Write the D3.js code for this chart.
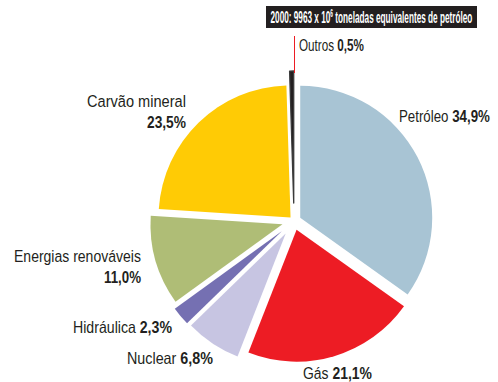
<!DOCTYPE html>
<html>
<head>
<meta charset="utf-8">
<script src="https://cdn.jsdelivr.net/npm/d3@7/dist/d3.min.js"></script>
<style>
  html, body { margin: 0; padding: 0; background: #ffffff; }
  svg { display: block; }
  text { font-family: "Liberation Sans Narrow", "Arial Narrow", "Liberation Sans", Arial, sans-serif; fill: #231f20; }
</style>
</head>
<body>
<svg id="chart" width="498" height="382"></svg>
<script>
// World primary energy supply in 2000, share by source (%), clockwise from 12 o'clock
const sources = ["Petróleo", "Gás", "Nuclear", "Hidráulica", "Energias renováveis", "Carvão mineral", "Outros"];
const shares  = [34.9, 21.1, 6.8, 2.3, 11.0, 23.5, 0.5];
const shareLabels = ["34,9%", "21,1%", "6,8%", "2,3%", "11,0%", "23,5%", "0,5%"];
const titleText = "2000: 9963 x 10";
const titleSup = "6";
const titleRest = " toneladas equivalentes de petróleo";

const colors = ["#a8c4d4", "#ed1c24", "#c7c5e2", "#7570b2", "#afbd76", "#ffcb05", "#231f20"];
// how far each wedge is pulled out from the centre
const explode = [7, 9, 15, 16, 12, 5, 18];

const svg = d3.select("#chart");
const cx = 294, cy = 221, R = 132;

const pie = d3.pie().sort(null).value(d => d.value).startAngle(0).endAngle(2 * Math.PI);
const data = sources.map((s, i) => ({ name: s, value: shares[i], label: shareLabels[i], color: colors[i], ex: explode[i] }));
const arcs = pie(data);
const arc = d3.arc().innerRadius(0).outerRadius(R);

const g = svg.append("g").attr("transform", `translate(${cx},${cy})`);
g.selectAll("path.slice")
  .data(arcs)
  .join("path")
  .attr("class", "slice")
  .attr("transform", d => {
    const a = (d.startAngle + d.endAngle) / 2;
    return `translate(${Math.sin(a) * d.data.ex},${-Math.cos(a) * d.data.ex})`;
  })
  .attr("d", arc)
  .attr("fill", d => d.data.color)
  .attr("stroke", d => d.data.name === "Outros" ? "#3a3a3a" : "none")
  .attr("stroke-width", 1.3)
  .attr("stroke-linejoin", "round");

// leader line for the smallest slice
svg.append("line")
  .attr("x1", 294.5).attr("x2", 294.5)
  .attr("y1", 36).attr("y2", 73)
  .attr("stroke", "#ed1c24").attr("stroke-width", 1);

// Places a text so that it spans [x0, x0 + w] on the given baseline,
// condensing or widening it horizontally as needed.
function fitText(x0, y, w, build, size) {
  const grp = svg.append("g");
  const t = grp.append("text").attr("x", 0).attr("y", 0).style("font-size", size);
  build(t);
  const nat = t.node().getComputedTextLength();
  const s = w / nat;
  grp.attr("transform", `translate(${x0},${y}) scale(${s},1)`);
  return t;
}

// title band
svg.append("rect").attr("x", 266).attr("y", 6).attr("width", 211).attr("height", 22).attr("fill", "#231f20");
fitText(270.5, 23, 202, t => {
  t.style("font-weight", "bold").style("fill", "#ffffff");
  t.append("tspan").text(titleText);
  t.append("tspan").attr("dy", -6).style("font-size", "10px").text(titleSup);
  t.append("tspan").attr("dy", 6).text(titleRest);
}, "17px");

const fs = "16.5px";
function inlineLabel(i, x0, x1, y) {
  fitText(x0, y, x1 - x0, t => {
    t.append("tspan").text(data[i].name + " ");
    t.append("tspan").style("font-weight", "bold").text(data[i].label);
  }, fs);
}
function stackedLabel(i, xr, y, w1, w2) {
  fitText(xr - w1, y, w1, t => t.text(data[i].name), fs);
  fitText(xr - w2, y + 21, w2, t => t.style("font-weight", "bold").text(data[i].label), fs);
}

inlineLabel(6, 299, 364, 51);
inlineLabel(0, 399, 490, 122);
stackedLabel(5, 186, 107, 99, 39);
stackedLabel(4, 141, 262, 127, 37);
inlineLabel(3, 73, 172, 333);
inlineLabel(2, 127, 213, 364);
inlineLabel(1, 303, 372, 379);
</script>
</body>
</html>
